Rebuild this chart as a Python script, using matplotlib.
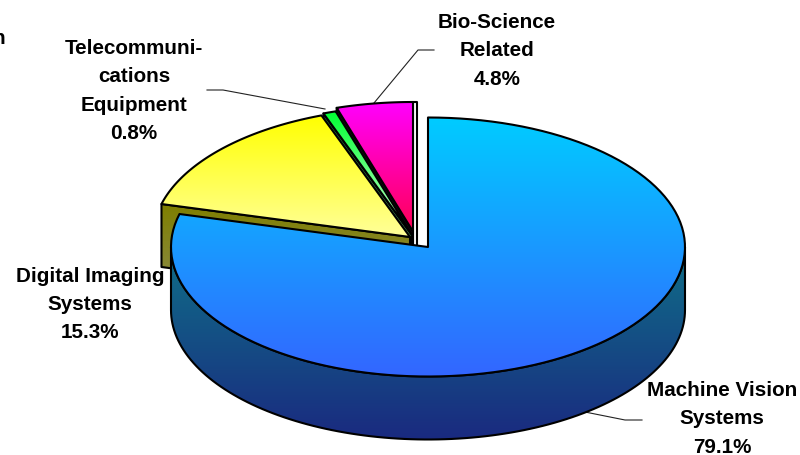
import numpy as np
import matplotlib
matplotlib.use('Agg')
import matplotlib.pyplot as plt
from matplotlib.patches import Polygon
from matplotlib.colors import LinearSegmentedColormap

labels = ['Machine Vision\nSystems\n79.1%', 'Digital Imaging\nSystems\n15.3%',
          'Telecommuni-\ncations\nEquipment\n0.8%', 'Bio-Science\nRelated\n4.8%']
shares = [79.1, 15.3, 0.8, 4.8]
top_colors = [('#00ccff', '#3366ff'), ('#ffff00', '#ffff99'), ('#00ff33', '#ccffcc'), ('#ff00ff', '#ff0055')]
wall_colors = [('#0f7088', '#1a2a80'), ('#7f7f00', '#8c8c50'), ('#1f7030', '#4f7f5f'), ('#200020', '#200010')]
centers = [(428, 248), (410, 238), (412, 236), (413, 232.5)]
label_pos = [(722, 419), (90, 304.5), (134, 91), (497, 51)]
leaders = [
    [(585, 413), (625, 421), (642, 421)],
    [(207, 91), (223, 91), (325, 110)],
    [(374, 104), (418, 51), (434, 51)],
]

rx, ry = 257, 129.5
depth = 63

plt.rcParams['font.family'] = ['Liberation Sans', 'DejaVu Sans']
fig = plt.figure(figsize=(8, 4.56), dpi=100)
ax = fig.add_axes([0, 0, 1, 1])
ax.set_xlim(0, 800)
ax.set_ylim(456, 0)
ax.axis('off')


def rim(cx, cy, a0, a1, n=120):
    t = np.radians(np.linspace(a0, a1, n))
    return np.column_stack([cx + rx * np.sin(t), cy - ry * np.cos(t)])


def fill(points, colors, z):
    """Polygon filled with a vertical gradient and a black outline."""
    poly = Polygon(points, closed=True, fc='none', ec='black', lw=1.5, zorder=z + 0.1, joinstyle='round')
    ax.add_patch(poly)
    x0, y0 = points.min(axis=0)
    x1, y1 = points.max(axis=0)
    cmap = LinearSegmentedColormap.from_list('g', colors)
    im = ax.imshow(np.linspace(0, 1, 256).reshape(-1, 1), cmap=cmap, extent=[x0, x1, y1, y0],
                   aspect='auto', zorder=z, interpolation='bilinear')
    im.set_clip_path(poly)


edges = np.cumsum([0] + shares) * 3.6

# back slices first, machine vision on top
for i in [3, 2, 1, 0]:
    cx, cy = centers[i]
    a0, a1 = edges[i], edges[i + 1]
    z = 2 + (3 - i) * 2
    down = np.array([0, depth])
    apex = np.array([[cx, cy]])
    if i == 0:
        outer = rim(cx, cy, 90, 270)
        fill(np.vstack([outer, (outer + down)[::-1]]), wall_colors[i], z)
    else:
        # visible cut face at the start of the slice
        edge = rim(cx, cy, a0, a0, 1)
        fill(np.vstack([apex, edge, edge + down, apex + down]), wall_colors[i], z)
    if i == 3:
        # thin side face on the right of the bio-science slice
        side = np.array([[cx, cy - ry], [cx + 4, cy - ry], [cx + 4, cy + 15], [cx, cy + 15]])
        fill(side, ('white', 'white'), z - 1)
    top = rim(cx, cy, a0, a1)
    fill(np.vstack([apex, top]), top_colors[i], z + 1)

for line in leaders:
    xs, ys = zip(*line)
    ax.plot(xs, ys, color='#222222', lw=0.8, zorder=1)

for text, (x, y) in zip(labels, label_pos):
    ax.text(x, y, text, ha='center', va='center', fontsize=14.9, fontweight='bold',
            color='black', linespacing=1.63, zorder=20)

# cut-off text at the left edge of the slide
ax.text(5.5, 38, 'n', ha='right', va='center', fontsize=14.9, fontweight='bold', color='black')

ax.set_xlim(0, 800)
ax.set_ylim(456, 0)
fig.savefig('out.png', dpi=100)
